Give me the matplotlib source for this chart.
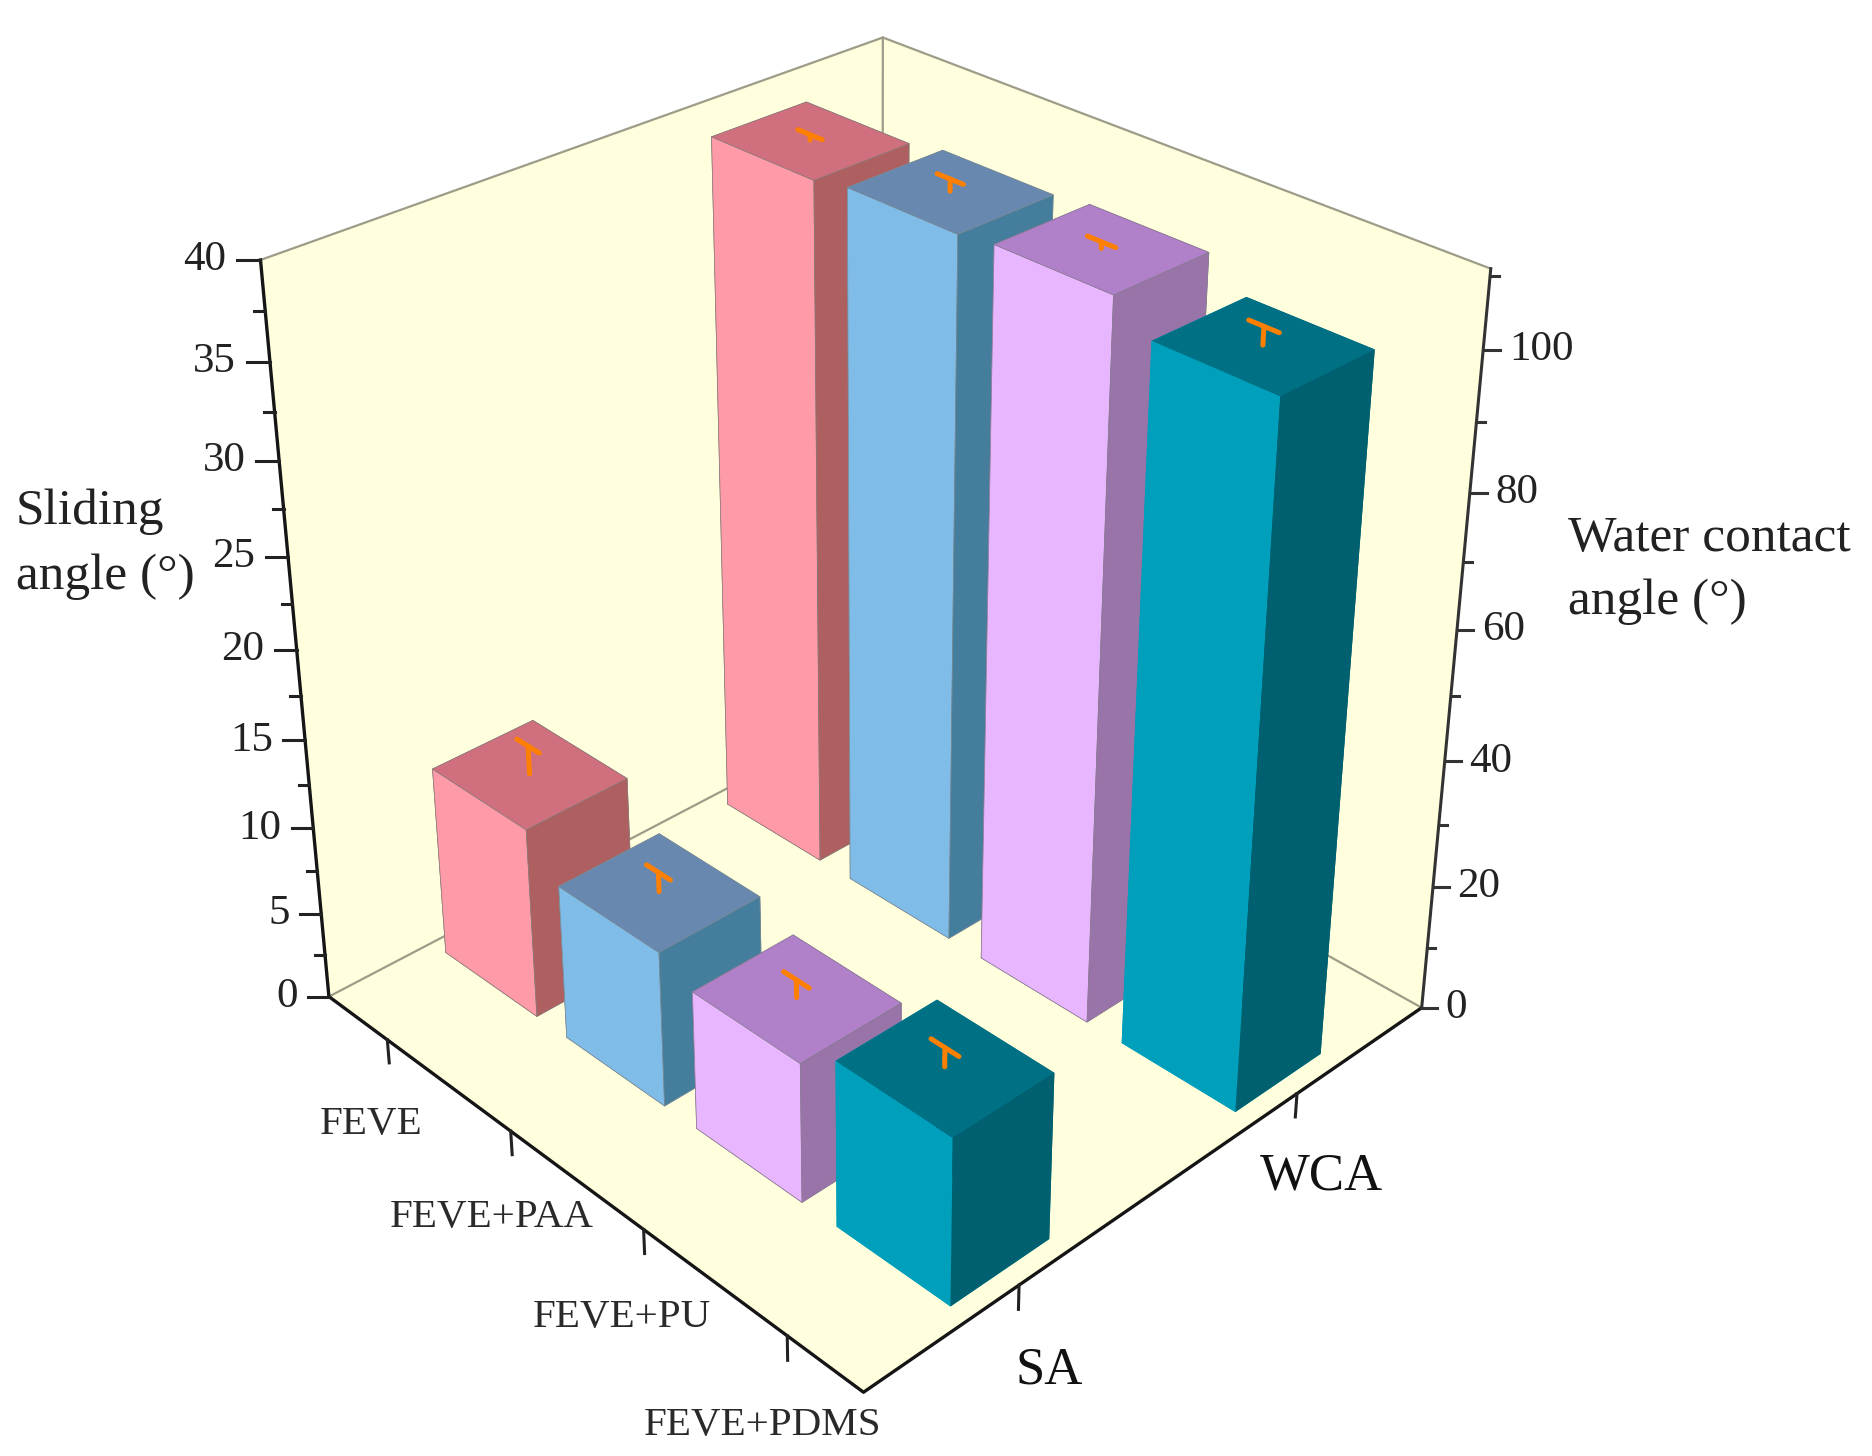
# 3D bars: sliding angle and water contact angle of FEVE coatings
import numpy as np
import matplotlib
matplotlib.use('Agg')
import matplotlib.pyplot as plt
from mpl_toolkits.mplot3d import proj3d
from mpl_toolkits.mplot3d.art3d import Poly3DCollection

plt.rcParams['font.family'] = ['Liberation Serif', 'DejaVu Serif']

coatings = ['FEVE', 'FEVE+PAA', 'FEVE+PU', 'FEVE+PDMS']
groups = ['SA', 'WCA']

sa_values = [11.0, 8.9, 7.9, 9.35]
sa_errors = [1.6, 1.1, 1.0, 1.05]
wca_values = [107.3, 108.3, 109.0, 105.1]
wca_errors = [0.8, 1.7, 0.9, 2.5]

sa_ticks = [0, 5, 10, 15, 20, 25, 30, 35, 40]
sa_minor = [2.5, 7.5, 12.5, 17.5, 22.5, 27.5, 32.5, 37.5]
wca_ticks = [0, 20, 40, 60, 80, 100]
wca_minor = [10, 30, 50, 70, 90, 110]

# left, top, right faces of each coating
face_colors = [('#FF9BA8', '#D0707E', '#AE6060'),
               ('#80BCE8', '#6888B0', '#457E9C'),
               ('#E8B6FF', '#B080C8', '#9874A8'),
               ('#009FBB', '#007085', '#00606F')]
edge_colors = ['#8a7a7a', '#7a8a94', '#8a7a94', 'none']

W, H = 1872, 1456
SA_TOP = 40
WCA_TOP = 111
wca_scale = SA_TOP / WCA_TOP
X0, X1 = -0.5, 3.5
Y0, Y1 = -0.5, 1.5
BAR_DX, BAR_DY = 0.76, 0.33
WALL = '#FFFFDE'
BACK_LINE = '#9c9c88'
AZIM = -44.05

fig = plt.figure(figsize=(W / 100, H / 100), dpi=100, facecolor='white')
side = 2400
ax = fig.add_axes([-358.4 / W, -227.4 / H, side / W, side / H], projection='3d',
                  computed_zorder=False)
ax.set_axis_off()
ax.patch.set_visible(False)
ax.view_init(elev=28.3, azim=AZIM)
ax.set_proj_type('persp', focal_length=0.2663)
ax.set_box_aspect((1, 1, 1.62), zoom=0.7354)
ax.set_xlim(X0, X1)
ax.set_ylim(Y0, Y1)
ax.set_zlim(0, 61.5)


def sideways(x, y, d):
    # move a point d box-widths to the right as seen by the viewer
    az = np.radians(AZIM)
    return x - d * np.sin(az) * (X1 - X0), y + d * np.cos(az) * (Y1 - Y0)


def put_text(x, y, z, s, **kw):
    # text anchored on a 3D point
    px, py, _ = proj3d.proj_transform(x, y, z, ax.get_proj())
    ax.text2D(px, py, s, transform=ax.transData, zorder=61, **kw)


# walls and floor
walls = [[(X0, Y0, 0), (X1, Y0, 0), (X1, Y1, 0), (X0, Y1, 0)],
         [(X0, Y0, 0), (X0, Y1, 0), (X0, Y1, SA_TOP), (X0, Y0, SA_TOP)],
         [(X0, Y1, 0), (X1, Y1, 0), (X1, Y1, SA_TOP), (X0, Y1, SA_TOP)]]
ax.add_collection3d(Poly3DCollection(walls, facecolors=WALL, edgecolors='none', zorder=1))

ax.plot([X0, X0, X1], [Y0, Y1, Y1], [0, 0, 0], color=BACK_LINE, lw=1.6, zorder=2)
ax.plot([X0, X0, X1], [Y0, Y1, Y1], [SA_TOP] * 3, color=BACK_LINE, lw=1.6, zorder=2)
ax.plot([X0, X0], [Y1, Y1], [0, SA_TOP], color=BACK_LINE, lw=1.6, zorder=2)

ax.plot([X0, X1, X1], [Y0, Y0, Y1], [0, 0, 0], color='#151515', lw=2.4, zorder=3)
ax.plot([X0, X0], [Y0, Y0], [0, SA_TOP], color='#151515', lw=2.4, zorder=3)
ax.plot([X1, X1], [Y1, Y1], [0, SA_TOP], color='#333333', lw=2.2, zorder=3)

# bars, back row first
z = 10
for j in [1, 0]:
    for i in range(len(coatings)):
        if j == 0:
            height, err = sa_values[i], sa_errors[i]
        else:
            height, err = wca_values[i] * wca_scale, wca_errors[i] * wca_scale
        left, top, right = face_colors[i]
        # faces are -z, +z, -y, +y, -x, +x
        ax.bar3d(i - BAR_DX / 2, j - BAR_DY / 2, 0, BAR_DX, BAR_DY, height,
                 color=[left, top, left, right, left, right], shade=False,
                 edgecolor=edge_colors[i], linewidth=0.5, zorder=z)
        ax.plot([i, i], [j, j], [height, height + err], color='#FF8000', lw=3.6,
                solid_capstyle='round', zorder=z + 1)
        ax.plot([i - 0.09, i + 0.09], [j, j], [height + err] * 2, color='#FF8000', lw=3.6,
                solid_capstyle='round', zorder=z + 1)
        z += 2

# value axes: left is sliding angle, right is water contact angle
for v in sa_ticks + sa_minor:
    size = 0.027 if v in sa_ticks else 0.013
    tx, ty = sideways(X0, Y0, -size)
    ax.plot([X0, tx], [Y0, ty], [v, v], color='#222222', lw=2.2, zorder=60)
for v in sa_ticks:
    tx, ty = sideways(X0, Y0, -0.04)
    put_text(tx, ty, v, str(v), fontsize=31, ha='right', va='center', color='#222222')

for v in wca_ticks + wca_minor:
    size = 0.02 if v in wca_ticks else 0.01
    tx, ty = sideways(X1, Y1, size)
    ax.plot([X1, tx], [Y1, ty], [v * wca_scale] * 2, color='#333333', lw=2.2, zorder=60)
for v in wca_ticks:
    tx, ty = sideways(X1, Y1, 0.03)
    put_text(tx, ty, v * wca_scale, str(v), fontsize=31, ha='left', va='center', color='#222222')

# category axes, ticks hang straight down
for i, name in enumerate(coatings):
    ax.plot([i, i], [Y0, Y0], [0, -1.4], color='#222222', lw=2.2, zorder=60)
    tx, ty = sideways(i, Y0, -0.03)
    put_text(tx, ty, -5.2, name, fontsize=29.5, ha='center', va='center', color='#2a2a2a')
for j, name in enumerate(groups):
    ax.plot([X1, X1], [j, j], [0, -1.4], color='#222222', lw=2.2, zorder=60)
    tx, ty = sideways(X1, j, 0.038)
    put_text(tx, ty, -5.0, name, fontsize=38, ha='center', va='center', color='#111111')

# axis titles
for label, px, py in [('Sliding', 16, 512), ('angle (°)', 16, 577),
                      ('Water contact', 1568, 539), ('angle (°)', 1568, 602)]:
    fig.text(px / W, 1 - py / H, label, fontsize=37, ha='left', va='center', color='#222222')

fig.savefig('out.png', dpi=100)
